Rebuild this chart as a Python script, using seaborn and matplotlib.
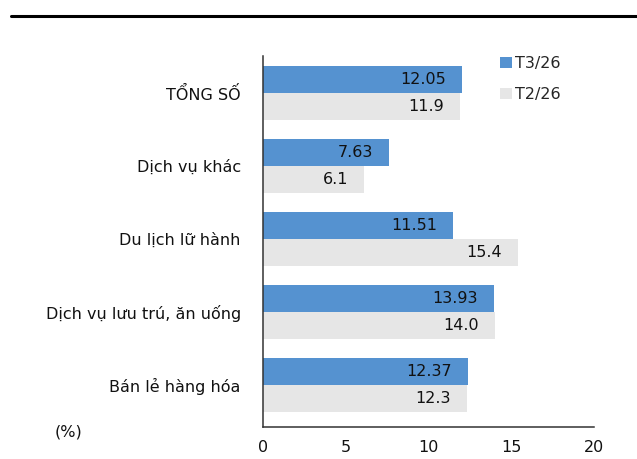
import matplotlib
matplotlib.use("Agg")
import matplotlib.pyplot as plt
from matplotlib.patches import Patch
import seaborn as sns
import pandas as pd

categories = ["TỔNG SỐ", "Dịch vụ khác", "Du lịch lữ hành", "Dịch vụ lưu trú, ăn uống", "Bán lẻ hàng hóa"]
t3_26 = [12.05, 7.63, 11.51, 13.93, 12.37]
t2_26 = [11.9, 6.1, 15.4, 14.0, 12.3]
t3_labels = ["12.05", "7.63", "11.51", "13.93", "12.37"]
t2_labels = ["11.9", "6.1", "15.4", "14.0", "12.3"]
series_names = ["T3/26", "T2/26"]
colors = ["#5592D0", "#E6E6E6"]
xticks = [0, 5, 10, 15, 20]

df = pd.DataFrame({
    "cat": categories * 2,
    "val": t3_26 + t2_26,
    "series": [series_names[0]] * 5 + [series_names[1]] * 5,
})

sns.set_style("white")
plt.rcParams["font.family"] = ["DejaVu Sans"]

W, H = 637, 459
fig = plt.figure(figsize=(W / 100, H / 100), dpi=100)
ax = fig.add_axes([263 / W, (H - 427) / H, (594 - 263) / W, (427 - 56.5) / H])

sns.barplot(data=df, y="cat", x="val", hue="series", order=categories,
            hue_order=series_names, palette=colors, orient="h", width=0.74,
            saturation=1, linewidth=0, ax=ax, legend=False)

ax.set_xlim(0, 20)
ax.set_ylim(4.575, -0.5)
ax.set_xticks(xticks)
ax.set_xticklabels([str(t) for t in xticks], fontsize=11.5, color="#111111")
ax.tick_params(axis="x", direction="in", length=6, width=1, color="#333333", pad=9)
ax.tick_params(axis="y", length=0, pad=16, labelsize=11.5, labelcolor="#111111")
ax.set_xlabel("")
ax.set_ylabel("")
for s in ["top", "right"]:
    ax.spines[s].set_visible(False)
for s in ["left", "bottom"]:
    ax.spines[s].set_color("#333333")
    ax.spines[s].set_linewidth(1.1)

for cont, labs in zip(ax.containers, [t3_labels, t2_labels]):
    ax.bar_label(cont, labels=labs, padding=-11.5, label_type="edge",
                 fontsize=11.5, color="#111111")
for t in ax.texts:
    t.set_ha("right")

# legend
handles = [Patch(facecolor=c, edgecolor="none") for c in colors]
fig.legend(handles, series_names, loc="upper left", bbox_to_anchor=(486 / W, 1 - 42 / H),
           frameon=False, fontsize=11.5, handlelength=0.7, handleheight=0.7,
           handletextpad=0.2, labelspacing=1.0)

fig.text(55 / W, 1 - 432 / H, "(%)", fontsize=11.5, va="center", ha="left", color="#111111")

# top rule
fig.add_artist(plt.Line2D([11 / W, 1.0], [1 - 15.5 / H, 1 - 15.5 / H], color="black", lw=2.2,
                          transform=fig.transFigure))

fig.savefig("out.png", dpi=100)
